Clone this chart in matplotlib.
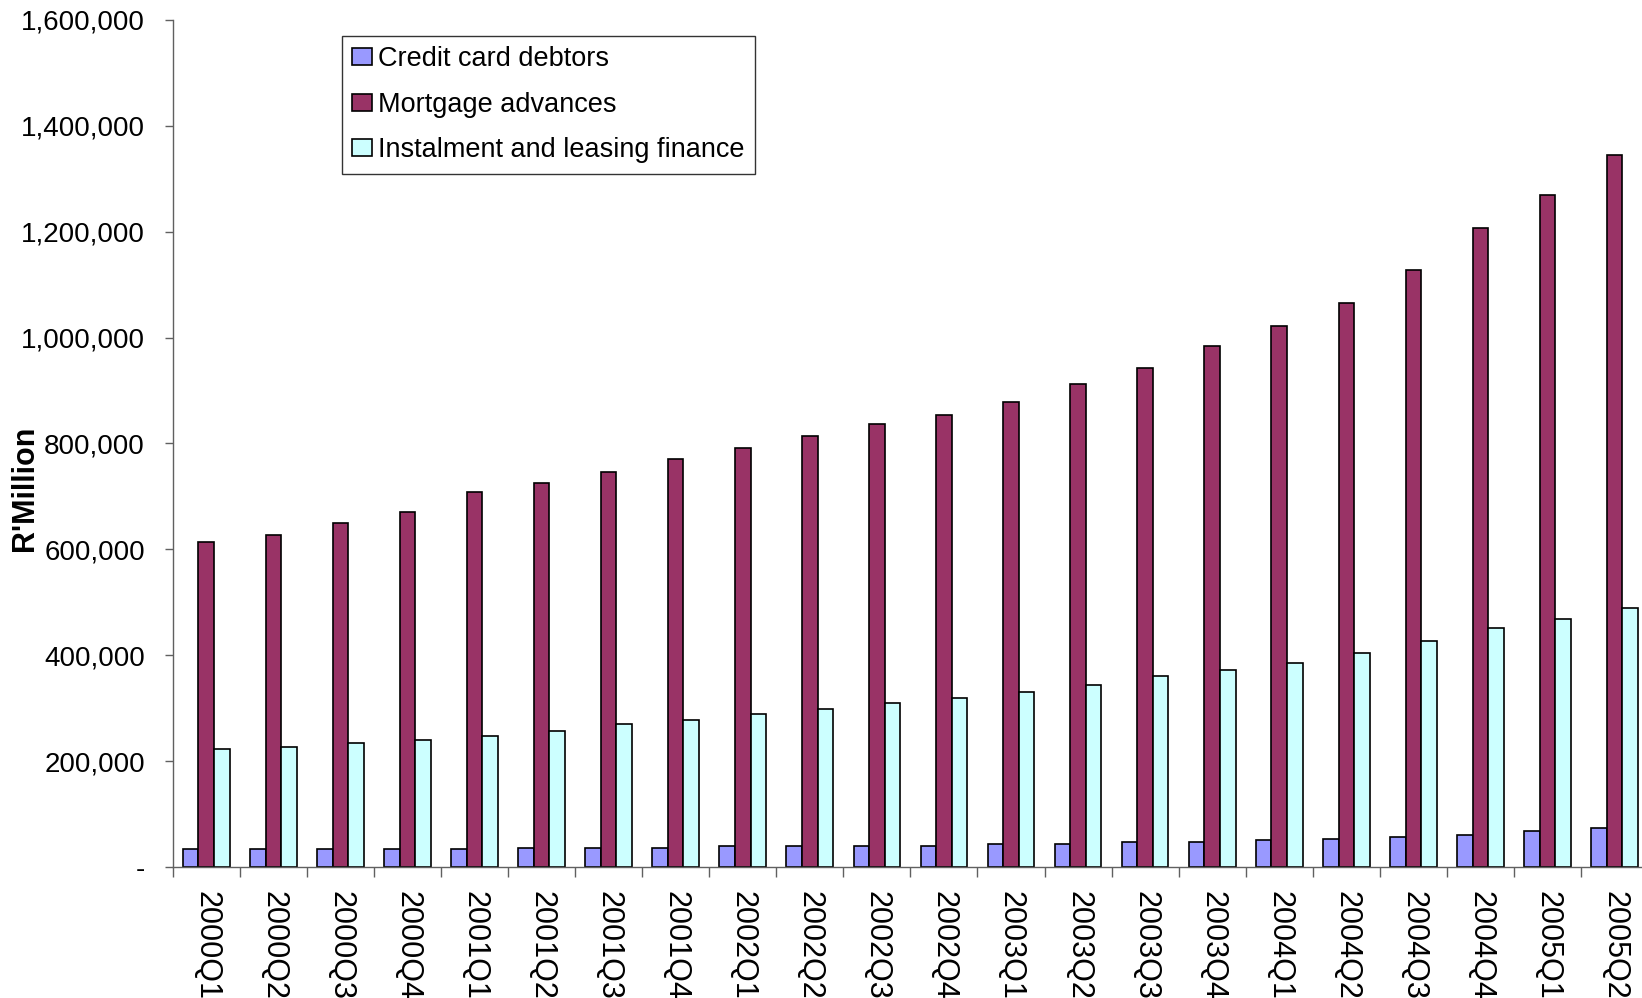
import matplotlib.pyplot as plt
import numpy as np
from matplotlib.ticker import FuncFormatter, FixedLocator

plt.rcParams['font.family'] = ['Liberation Sans', 'DejaVu Sans']

quarters = ['2000Q1', '2000Q2', '2000Q3', '2000Q4',
            '2001Q1', '2001Q2', '2001Q3', '2001Q4',
            '2002Q1', '2002Q2', '2002Q3', '2002Q4',
            '2003Q1', '2003Q2', '2003Q3', '2003Q4',
            '2004Q1', '2004Q2', '2004Q3', '2004Q4',
            '2005Q1', '2005Q2']

# R'Million
credit_card = [33000, 33000, 33000, 33000, 33000, 36500, 36500, 36500,
               40000, 40000, 40000, 40000, 43000, 43000, 47000, 47000,
               50000, 53000, 57000, 60000, 67000, 74000]
mortgage = [614000, 628000, 649000, 670000, 708000, 725000, 746000, 771000,
            791000, 815000, 836000, 853000, 878000, 913000, 943000, 985000,
            1021000, 1065000, 1128000, 1207000, 1269000, 1345000]
instalment = [223000, 227000, 234000, 240000, 248000, 257000, 271000, 278000,
              289000, 299000, 310000, 320000, 330000, 344000, 361000, 372000,
              386000, 405000, 427000, 451000, 469000, 489000]

fig = plt.figure(figsize=(16.42, 9.98), dpi=100)
# plot area runs a little past the right edge of the figure
ax = fig.add_axes([0.1052, 0.1313, 0.8985, 0.8487])

x = np.arange(len(quarters))
w = 0.232
ax.bar(x - w, credit_card, w, color='#9999FF', edgecolor='black', linewidth=1.2,
       label='Credit card debtors')
ax.bar(x, mortgage, w, color='#993366', edgecolor='black', linewidth=1.2,
       label='Mortgage advances')
ax.bar(x + w, instalment, w, color='#CCFFFF', edgecolor='black', linewidth=1.2,
       label='Instalment and leasing finance')

ax.set_xlim(-0.5, len(quarters) - 0.5)
ax.set_ylim(0, 1600000)
ax.set_yticks(np.arange(0, 1600001, 200000))
ax.yaxis.set_major_formatter(FuncFormatter(lambda v, p: '-' if v == 0 else f'{int(v):,}'))

ax.set_xticks(x)
ax.set_xticklabels(quarters, rotation=270)
ax.xaxis.set_minor_locator(FixedLocator(np.arange(-0.5, len(quarters), 1.0)))
ax.tick_params(axis='x', which='major', length=0, pad=17, labelsize=22)
ax.tick_params(axis='x', which='minor', length=7, width=1, color='#606060')
ax.tick_params(axis='y', length=6, width=1, color='#606060', pad=14, labelsize=20)

for s in ['top', 'right']:
    ax.spines[s].set_visible(False)
for s in ['left', 'bottom']:
    ax.spines[s].set_color('#606060')
    ax.spines[s].set_linewidth(1)

fig.text(0.0152, 0.511, "R'Million", rotation=90, fontsize=22, fontweight='bold',
         ha='center', va='center')

leg = ax.legend(loc='upper left', bbox_to_anchor=(342 / 1642, 1 - 36 / 998),
                bbox_transform=fig.transFigure, fontsize=19.5, frameon=True,
                fancybox=False, borderaxespad=0, handlelength=0.72,
                handleheight=0.6, handletextpad=0.22, labelspacing=0.72,
                borderpad=0.38)
leg.get_frame().set_edgecolor('black')
leg.get_frame().set_linewidth(1)

fig.savefig('out.png', dpi=100)
